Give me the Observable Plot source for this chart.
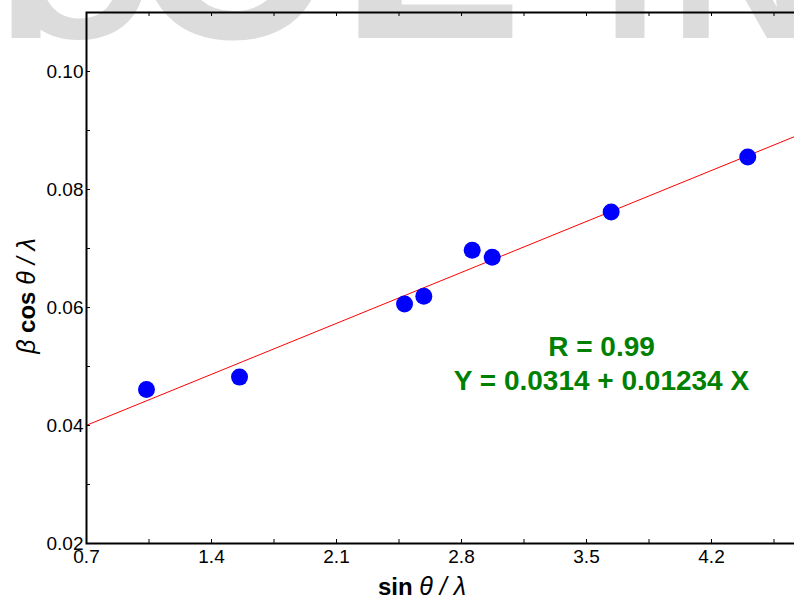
<!DOCTYPE html>
<html><head><meta charset="utf-8">
<script src="https://cdn.jsdelivr.net/npm/d3@7"></script>
<script src="https://cdn.jsdelivr.net/npm/@observablehq/plot@0.6"></script>
<style>
html,body{margin:0;padding:0;background:#fff;overflow:hidden;width:794px;height:599px;}
#chart svg{display:block;max-width:none;}
</style></head><body><div id="chart"></div>
<script>
// ---- data ----
const sinThetaOverLambda = [1.036, 1.557, 2.481, 2.589, 2.860, 2.972, 3.638, 4.403];
const betaCosThetaOverLambda = [0.0461, 0.0482, 0.0606, 0.0619, 0.0697, 0.0685, 0.0762, 0.0855];
const fitIntercept = 0.0314;
const fitSlope = 0.01234;
const fitR = 0.99;
const xDomain = [0.7, 4.9];
const yDomain = [0.02, 0.11];
const xTickLabels = [0.7, 1.4, 2.1, 2.8, 3.5, 4.2, 4.9];
const xMinorTicks = [0.7, 1.05, 1.4, 1.75, 2.1, 2.45, 2.8, 3.15, 3.5, 3.85, 4.2, 4.55, 4.9];
const yTickLabels = [0.02, 0.04, 0.06, 0.08, 0.10];
const yMinorTicks = [0.02, 0.03, 0.04, 0.05, 0.06, 0.07, 0.08, 0.09, 0.10, 0.11];
const watermarkLetters = ["I", "O", "O", "L", "I", "N"];

const points = sinThetaOverLambda.map((x, i) => ({x, y: betaCosThetaOverLambda[i]}));
const fitLine = xDomain.map(x => ({x, y: fitIntercept + fitSlope * x}));
const annotation1 = [`R = ${fitR.toFixed(2)}`];
const annotation2 = [`Y = ${fitIntercept} + ${fitSlope} X`];

const W = 850, H = 599, mL = 86, mR = 14, mT = 12, mB = 56;
const fw = W - mL - mR, fh = H - mT - mB;
const font = "'Liberation Sans', Arial, Helvetica, sans-serif";

const chart = Plot.plot({
  width: W, height: H,
  marginLeft: mL, marginRight: mR, marginTop: mT, marginBottom: mB,
  style: {background: "transparent", fontFamily: font, fontSize: "19px", maxWidth: "none", overflow: "visible"},
  x: {domain: xDomain, label: null},
  y: {domain: yDomain, label: null},
  marks: [
    Plot.ruleX(xMinorTicks, {x: d => d, stroke: "black", strokeWidth: 1, insetTop: fh - 4}),
    Plot.ruleX(xMinorTicks, {x: d => d, stroke: "black", strokeWidth: 1, insetBottom: fh - 4}),
    Plot.ruleY(yMinorTicks, {y: d => d, stroke: "black", strokeWidth: 1, insetRight: fw - 4}),
    Plot.axisX({ticks: xTickLabels, tickSize: 0, tickPadding: 6, tickFormat: d3.format(".1f"), fontSize: 19, fill: "black", label: null}),
    Plot.axisY({ticks: yTickLabels, tickSize: 0, tickPadding: 3, tickFormat: d3.format(".2f"), fontSize: 19, fill: "black", label: null}),
    Plot.line(fitLine, {x: "x", y: "y", stroke: "red", strokeWidth: 1}),
    Plot.dot(points, {x: "x", y: "y", r: 8.5, fill: "#0000ff", stroke: null}),
    Plot.text(annotation1, {text: d => d, frameAnchor: "top-left", dx: 515, dy: 335, textAnchor: "middle", lineAnchor: "middle", fontSize: 28, fontWeight: "bold", fill: "#008000"}),
    Plot.text(annotation2, {text: d => d, frameAnchor: "top-left", dx: 515, dy: 369, textAnchor: "middle", lineAnchor: "middle", fontSize: 28, fontWeight: "bold", fill: "#008000"}),
    Plot.frame({stroke: "black", strokeWidth: 2})
  ]
});

const svg = d3.select(chart);
// watermark behind everything
const wm = svg.insert("g", ":first-child").attr("font-family", font).attr("font-weight", "bold").attr("fill", "#dcdcdc");
const wmX = [26, 80, 234, 430, 630, 742];
const wmSize = [200, 190, 260, 300, 200, 200];
watermarkLetters.forEach((c, i) => wm.append("text").attr("x", wmX[i]).attr("y", 38).attr("font-size", wmSize[i]).text(c));

// axis titles
const xl = svg.append("text").attr("x", 422).attr("y", 595).attr("text-anchor", "middle")
  .attr("font-family", font).attr("font-size", 24).attr("fill", "black");
xl.append("tspan").attr("font-weight", "bold").text("sin ");
xl.append("tspan").attr("font-style", "italic").attr("font-size", 25).text("θ / λ");

const yl = svg.append("text").attr("transform", "translate(35,296) rotate(-90)").attr("text-anchor", "middle")
  .attr("font-family", font).attr("font-size", 24).attr("fill", "black");
yl.append("tspan").attr("font-style", "italic").attr("font-size", 25).text("β");
yl.append("tspan").attr("font-weight", "bold").text(" cos ");
yl.append("tspan").attr("font-style", "italic").attr("font-size", 25).text("θ / λ");

document.getElementById("chart").appendChild(chart);
</script></body></html>
